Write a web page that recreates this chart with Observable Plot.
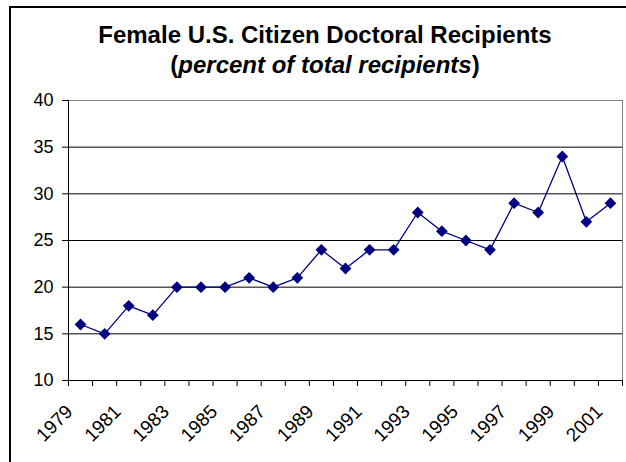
<!DOCTYPE html>
<html>
<head>
<meta charset="utf-8">
<script src="https://cdn.jsdelivr.net/npm/d3@7"></script>
<script src="https://cdn.jsdelivr.net/npm/@observablehq/plot@0.6"></script>
<style>
  html, body { margin: 0; padding: 0; background: #fff; }
  body { width: 626px; height: 462px; position: relative; overflow: hidden; font-family: "Liberation Sans", Arial, sans-serif; }
  #frame { position: absolute; left: 9px; top: 6px; width: 700px; height: 500px; border-left: 2px solid #000; border-top: 2px solid #000; }
  #title { position: absolute; left: 0; top: 20px; width: 650px; text-align: center; font-size: 24px; line-height: 30px; font-weight: bold; color: #000; }
  #chart { position: absolute; left: 0; top: 80px; }
</style>
</head>
<body>
<div id="frame"></div>
<div id="title">Female U.S. Citizen Doctoral Recipients<br>(<i>percent of total recipients</i>)</div>
<div id="chart"></div>
<script>
const years = [1979, 1980, 1981, 1982, 1983, 1984, 1985, 1986, 1987, 1988, 1989, 1990, 1991, 1992, 1993, 1994, 1995, 1996, 1997, 1998, 1999, 2000, 2001];
const percents = [16, 15, 18, 17, 20, 20, 20, 21, 20, 21, 24, 22, 24, 24, 28, 26, 25, 24, 29, 28, 34, 27, 29];
const yTicks = [10, 15, 20, 25, 30, 35, 40];
const xTickLabels = [1979, 1981, 1983, 1985, 1987, 1989, 1991, 1993, 1995, 1997, 1999, 2001];

const data = years.map((year, i) => ({year, value: percents[i]}));
const xMin = years[0] - 0.5;
const xMax = years[years.length - 1] + 0.5;
const boundaries = years.map(y => y - 0.5).concat([xMax]);
const yMin = yTicks[0], yMax = yTicks[yTicks.length - 1];

const chart = Plot.plot({
  width: 626,
  height: 382,
  marginLeft: 68,
  marginRight: 4,
  marginTop: 20,
  marginBottom: 82,
  style: {fontFamily: "'Liberation Sans', Arial, sans-serif", fontSize: "18px", color: "#000", background: "transparent"},
  x: {type: "linear", domain: [xMin, xMax]},
  y: {domain: [yMin, yMax]},
  marks: [
    Plot.ruleY(yTicks.slice(1, -1), {stroke: "#000", strokeWidth: 1}),
    Plot.ruleY([yMax], {stroke: "#808080", strokeWidth: 1}),
    Plot.ruleX([xMax], {stroke: "#808080", strokeWidth: 1}),
    Plot.ruleX([xMin], {stroke: "#000", strokeWidth: 1}),
    Plot.ruleY([yMin], {stroke: "#000", strokeWidth: 1}),
    Plot.axisY({ticks: yTicks, tickSize: 6, tickPadding: 9, label: null, fontSize: 18, stroke: "#000"}),
    Plot.axisX({ticks: boundaries, tickSize: 6, tickFormat: () => "", label: null, stroke: "#000"}),
    Plot.axisX({ticks: xTickLabels, tickSize: 0, tickRotate: -45, tickPadding: 10, dx: -11, dy: 18, tickFormat: d => String(d), label: null, fontSize: 19}),
    Plot.line(data, {x: "year", y: "value", stroke: "#000080", strokeWidth: 1.3}),
    Plot.dot(data, {x: "year", y: "value", symbol: "diamond2", r: 5.3, fill: "#000080", stroke: "none"})
  ]
});
document.getElementById("chart").appendChild(chart);
</script>
</body>
</html>
